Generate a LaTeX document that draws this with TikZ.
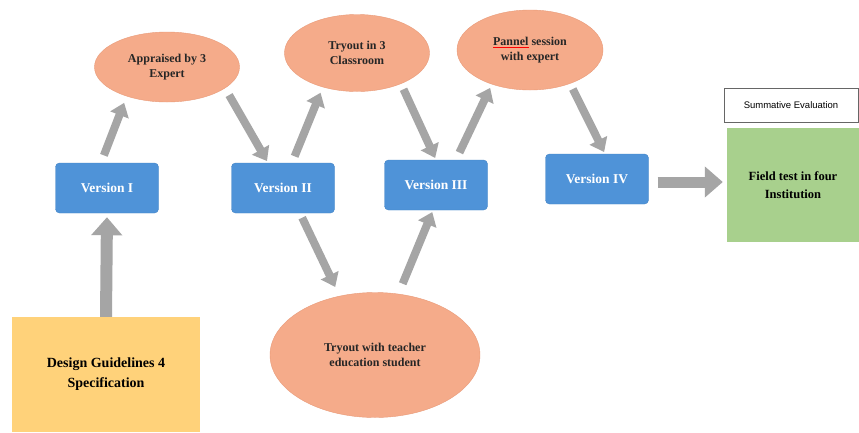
\documentclass[tikz,border=0pt]{standalone}
\usepackage{xcolor}
\usepackage{fontspec}
\setmainfont{Liberation Serif}
\newfontfamily\labelfont{Liberation Sans}
\usetikzlibrary{shapes.geometric, arrows.meta}

\definecolor{verblue}{HTML}{4F93D8}
\definecolor{verline}{HTML}{4585C6}
\definecolor{ovalfill}{HTML}{F5AB8A}
\definecolor{ovalline}{HTML}{E99A78}
\definecolor{designfill}{HTML}{FFD27A}
\definecolor{fieldfill}{HTML}{A8D08D}
\definecolor{arrowgray}{HTML}{A5A5A5}

% red spell-check line under a word
\newcommand\redline[1]{\setbox0\hbox{#1}\rlap{\color{red}\rule[-2.5pt]{\wd0}{0.8pt}}\box0\relax}

\begin{document}
\begin{tikzpicture}[
        x=1pt, y=-1pt,
        version/.style={draw=verline, fill=verblue, rectangle, rounded corners=4pt,
            minimum width=103pt, minimum height=50pt, text=white,
            font=\fontsize{13.5}{15}\selectfont\bfseries},
        oval/.style={draw=ovalline, fill=ovalfill, ellipse, inner sep=0pt, align=center,
            text=black!85, font=\fontsize{12}{14.5}\selectfont\bfseries},
        flow/.style={draw=arrowgray, line width=8pt, -{Triangle[width=19pt,length=13pt]}},
        bigflow/.style={draw=arrowgray, line width=12pt, -{Triangle[width=30pt,length=18pt]}}
    ]
    \useasboundingbox (0,0) rectangle (859,432);
    \fill[white] (0,0) rectangle (859,432);

    % Version boxes
    \node[version] (v1) at (107,188) {Version I};
    \node[version] (v2) at (283,188) {Version II};
    \node[version] (v3) at (436,185) {Version III};
    \node[version] (v4) at (597,179) {Version IV};

    % Review steps
    \node[oval, minimum width=145pt, minimum height=70pt] (app) at (167,67) {Appraised by 3\\Expert};
    \node[oval, minimum width=145pt, minimum height=77pt] (try3) at (357,53) {Tryout in 3\\Classroom};
    \node[oval, minimum width=146pt, minimum height=80pt] (panel) at (530,50)
        {\redline{Pannel} session\\with expert};
    \node[oval, minimum width=210pt, minimum height=125pt] (teacher) at (375,355)
        {Tryout with teacher\\education student};

    % Start and end boxes
    \node[fill=designfill, rectangle, minimum width=188pt, minimum height=115pt, align=center,
        font=\fontsize{14}{20}\selectfont\bfseries] (design) at (106,374.5)
        {Design Guidelines 4\\Specification};
    \node[draw=black!60, fill=white, rectangle, minimum width=134pt, minimum height=34pt,
        font=\labelfont\fontsize{9.5}{11}\selectfont] (summ) at (791,105) {Summative Evaluation};
    \node[fill=fieldfill, rectangle, minimum width=132pt, minimum height=114pt, align=center,
        font=\fontsize{12.5}{18}\selectfont\bfseries] (field) at (793,185)
        {Field test in four\\Institution};

    % Connectors
    \draw[bigflow, shorten >=4pt] (design.north) -- (v1.south);
    \draw[flow, shorten <=8pt, shorten >=7pt] ([xshift=-6pt]v1.north) -- (app.216);
    \draw[flow, shorten <=8pt, shorten >=2pt] (app.340) -- ([xshift=-15pt]v2.north);
    \draw[flow, shorten <=7pt, shorten >=6pt] ([xshift=9pt]v2.north) -- (try3.225);
    \draw[flow, shorten <=6pt, shorten >=2pt] (try3.325) -- (v3.north);
    \draw[flow, shorten <=8pt, shorten >=4pt] ([xshift=20pt]v3.north) -- (panel.222);
    \draw[flow, shorten <=6pt, shorten >=2pt] (panel.320) -- ([xshift=8pt]v4.north);
    \draw[bigflow, line width=11pt, shorten <=9pt, shorten >=4pt]
        ([yshift=-3pt]v4.east) -- ([yshift=-3pt]v4.east -| field.west);
    \draw[flow, shorten <=5pt, shorten >=10pt] ([xshift=17pt]v2.south) -- (teacher.121);
    \draw[flow, shorten <=11pt, shorten >=2pt] (teacher.69) -- ([xshift=-3pt]v3.south);
\end{tikzpicture}
\end{document}
